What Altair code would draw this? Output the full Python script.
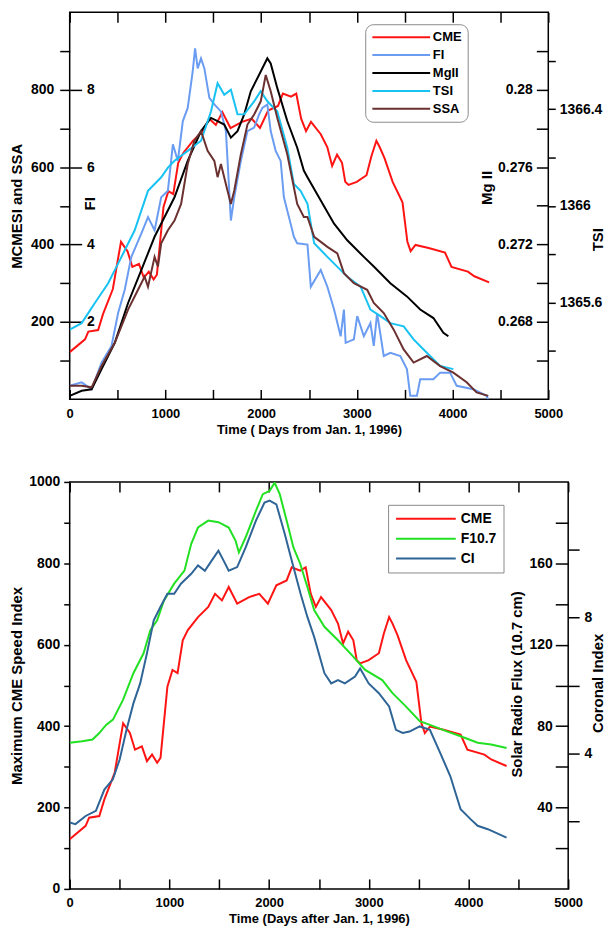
import altair as alt
import pandas as pd

# ---------------- data ----------------
CME_DAY = [0, 160, 195, 297, 348, 451, 502, 536, 604, 655, 724, 775, 826, 877, 911, 980, 1031, 1082, 1134, 1185,
           1287, 1390, 1458, 1527, 1595, 1680, 1800, 1902, 1988, 2073, 2176, 2227, 2312, 2367, 2418, 2469, 2521,
           2623, 2691, 2742, 2793, 2845, 2879, 2913, 2999, 3101, 3152, 3204, 3238, 3289, 3374, 3477, 3528, 3562,
           3613, 3750, 3921, 3989, 4160, 4228, 4382]
CME_VAL = [122, 155, 175, 179, 220, 285, 359, 407, 383, 342, 350, 314, 330, 310, 322, 497, 538, 530, 611, 636,
           668, 693, 725, 709, 742, 701, 717, 725, 701, 746, 758, 790, 782, 790, 725, 693, 717,
           685, 652, 603, 632, 611, 562, 554, 562, 579, 628, 668, 652, 623, 562, 509, 407, 383,
           399, 391, 379, 342, 330, 318, 302]

FI_DAY = [0, 125, 229, 333, 437, 506, 575, 644, 748, 818, 887, 956, 1026, 1078, 1130, 1182, 1233, 1285, 1310, 1337,
          1372, 1407, 1459, 1511, 1580, 1632, 1684, 1719, 1788, 1857, 1927, 1979, 2013, 2065, 2100, 2152, 2204,
          2238, 2308, 2342, 2377, 2484, 2519, 2623, 2692, 2762, 2831, 2865, 2883, 2969, 3004, 3073, 3142, 3177,
          3212, 3281, 3350, 3454, 3523, 3558, 3627, 3662, 3800, 3870, 3974, 4043, 4216, 4355, 4373]
FI_VAL = [0.35, 0.44, 0.26, 0.95, 1.38, 2.23, 2.83, 3.68, 4.28, 4.71, 4.37, 5.22, 5.39, 6.59, 6.16, 7.19, 7.53, 8.47,
          9.07, 8.55, 8.81, 8.55, 7.79, 7.62, 7.44, 6.93, 4.62, 5.22, 6.16, 6.93, 7.02, 7.36, 7.53, 7.62, 6.93,
          6.42, 6.16, 5.22, 4.54, 4.20, 4.03, 4.00, 2.91, 3.34, 2.91, 2.32, 1.63, 2.32, 1.46, 1.55, 2.15, 1.63,
          1.97, 1.38, 2.23, 1.12, 1.20, 1.12, 0.78, 0.09, 0.09, 0.52, 0.52, 0.69, 0.69, 0.35, 0.26, 0.09, 0.0]

MG_DAY = [0, 125, 229, 333, 471, 610, 748, 887, 991, 1095, 1233, 1372, 1476, 1545, 1615, 1684, 1753, 1823, 1892,
          1996, 2065, 2100, 2169, 2273, 2377, 2446, 2484, 2623, 2762, 2900, 3073, 3177, 3350, 3523, 3662, 3800,
          3904, 3956]
MG_VAL = [0.26418, 0.26444, 0.26452, 0.26556, 0.26692, 0.26898, 0.27068, 0.2724, 0.27342, 0.27444, 0.27632,
          0.27786, 0.27854, 0.27838, 0.2782, 0.27752, 0.27786, 0.27872, 0.27992, 0.28094, 0.28162, 0.28136,
          0.28008, 0.27838, 0.277, 0.27582, 0.27548, 0.27428, 0.27308, 0.27222, 0.27136, 0.27086, 0.27,
          0.26932, 0.26864, 0.2682, 0.26744, 0.26726]

TSI_DAY = [0, 125, 263, 402, 541, 679, 818, 956, 1026, 1095, 1233, 1372, 1476, 1545, 1615, 1684, 1753, 1823, 1927,
           1996, 2065, 2169, 2273, 2342, 2412, 2484, 2554, 2692, 2831, 2900, 3039, 3142, 3246, 3350, 3489, 3593,
           3697, 3870, 4008]
TSI_VAL = [1365.488, 1365.515, 1365.598, 1365.68, 1365.789, 1365.899, 1366.062, 1366.118, 1366.158, 1366.186,
           1366.227, 1366.269, 1366.39, 1366.507, 1366.459, 1366.48, 1366.378, 1366.378, 1366.432, 1366.474,
           1366.432, 1366.39, 1366.24, 1366.09, 1366.062, 1366.008, 1365.845, 1365.789, 1365.734, 1365.707,
           1365.666, 1365.571, 1365.544, 1365.515, 1365.502, 1365.448, 1365.406, 1365.338, 1365.325]

SSA_DAY = [0, 125, 229, 333, 471, 610, 714, 783, 818, 887, 922, 956, 1026, 1095, 1164, 1233, 1303, 1372, 1441,
           1511, 1545, 1580, 1649, 1684, 1719, 1788, 1857, 1927, 1996, 2048, 2100, 2169, 2273, 2377, 2446, 2484,
           2554, 2692, 2796, 2865, 2969, 3108, 3177, 3281, 3385, 3489, 3593, 3731, 3870, 4008, 4147, 4251, 4373]
SSA_VAL = [35, 35, 31, 86, 146, 232, 283, 317, 291, 368, 343, 403, 437, 462, 505, 608, 668, 693, 642, 616, 574,
           608, 539, 505, 539, 633, 710, 736, 770, 838, 796, 727, 633, 505, 471, 471, 420, 394, 377, 326, 300,
           283, 249, 223, 180, 129, 95, 112, 86, 69, 44, 18, 9]

F107_DAY = [0, 126, 229, 297, 365, 434, 536, 639, 741, 809, 877, 946, 1048, 1151, 1219, 1287, 1390, 1492, 1595,
            1663, 1697, 1765, 1868, 1937, 2005, 2056, 2107, 2176, 2244, 2312, 2384, 2452, 2555, 2691, 2828, 2964,
            3135, 3238, 3374, 3511, 3613, 3784, 3921, 4092, 4228, 4382]
F107_VAL = [71.8, 72.6, 73.4, 76.6, 80.6, 83.2, 93.0, 106.0, 115.8, 127.2, 132.0, 141.8, 150.0, 156.4, 169.6,
            177.6, 181.0, 180.2, 177.6, 171.2, 165.4, 172.8, 185.8, 194.0, 195.6, 199.6, 194.0, 181.0, 167.8,
            159.8, 148.4, 137.0, 128.8, 122.2, 115.0, 107.6, 102.6, 96.2, 89.6, 82.4, 80.6, 77.4, 75.0, 71.8,
            71.0, 69.2]

CI_DAY = [0, 58, 160, 263, 348, 433, 502, 570, 639, 707, 775, 843, 911, 980, 1048, 1116, 1219, 1287, 1356, 1424,
          1492, 1544, 1595, 1680, 1765, 1868, 1954, 2005, 2073, 2158, 2227, 2316, 2384, 2452, 2555, 2623, 2691,
          2760, 2862, 2913, 2999, 3101, 3204, 3272, 3340, 3408, 3511, 3613, 3716, 3818, 3921, 4023, 4092, 4194,
          4382]
CI_VAL = [1.96, 1.91, 2.15, 2.30, 2.93, 3.23, 3.82, 4.69, 5.47, 6.06, 6.95, 7.92, 8.32, 8.70, 8.70, 9.00, 9.29,
          9.54, 9.38, 9.68, 9.97, 9.68, 9.38, 9.49, 10.07, 10.86, 11.39, 11.45, 11.34, 10.46, 9.68, 8.70, 8.02,
          7.43, 6.36, 6.06, 6.16, 6.06, 6.26, 6.50, 6.06, 5.77, 5.38, 4.69, 4.60, 4.64, 4.79, 4.69, 4.01, 3.32,
          2.35, 2.05, 1.86, 1.76, 1.51]

SERIES_A = ["CME", "FI", "MgII", "TSI", "SSA"]
COLORS_A = ["#ff1414", "#6a9cf2", "#000000", "#18c2f2", "#6b3030"]
SERIES_B = ["CME", "F10.7", "CI"]
COLORS_B = ["#ff1414", "#22e022", "#2f6496"]

X_LABELS = [0, 1000, 2000, 3000, 4000, 5000]
X_TICKS = [0, 500, 1000, 1500, 2000, 2500, 3000, 3500, 4000, 4500, 5000]

FONT = "Liberation Sans"
W_A, H_A = 481, 389
W_B, H_B = 501, 409


def table(days, vals, name):
    return pd.DataFrame({"day": days, "value": vals, "series": name})


def x_main(title):
    return alt.X("day:Q", scale=alt.Scale(domain=[0, 5000], nice=False),
                 axis=alt.Axis(values=X_LABELS, format="d", ticks=False, tickSize=0, domain=False, grid=False,
                               labelPadding=8, labelFlush=False, labelOverlap=False, title=title,
                               titlePadding=3, labelFontSize=13, titleFontSize=13))


def x_ticks(orient, h):
    return alt.X("day:Q", scale=alt.Scale(domain=[0, 5000], nice=False),
                 axis=alt.Axis(orient=orient, offset=-h, values=X_TICKS, labels=False, tickSize=10,
                               domain=False, grid=False, title=None))


def x_plain():
    return alt.X("day:Q", scale=alt.Scale(domain=[0, 5000], nice=False), axis=None)


def color(series, colors, legend):
    return alt.Color("series:N", scale=alt.Scale(domain=series, range=colors), legend=legend)


legend_a = alt.Legend(orient="none", legendX=297, legendY=12, title=None, symbolType="M-1,0H9",
                      symbolSize=135, symbolStrokeWidth=2, labelFont=FONT, labelFontSize=13,
                      labelFontWeight="bold", strokeColor="#8a8a8a", cornerRadius=8, padding=6,
                      fillColor="white", rowPadding=4, labelOffset=48)
legend_b = alt.Legend(orient="none", legendX=320, legendY=23, title=None, symbolType="M-1,0H9",
                      symbolSize=144, symbolStrokeWidth=2, labelFont=FONT, labelFontSize=14,
                      labelFontWeight="bold", strokeColor="#8a8a8a", cornerRadius=0, padding=7,
                      fillColor="white", rowPadding=6, labelOffset=52)

col_a = color(SERIES_A, COLORS_A, legend_a)
col_b = color(SERIES_B, COLORS_B, legend_b)
line = dict(strokeWidth=2, clip=True)

# ---------------- panel (a) ----------------
a_cme = alt.Chart(table(CME_DAY, CME_VAL, "CME")).mark_line(**line).encode(
    x=x_main("Time ( Days from Jan. 1, 1996)"),
    y=alt.Y("value:Q", scale=alt.Scale(domain=[0, 1000], nice=False, zero=False),
            axis=alt.Axis(orient="left", values=list(range(100, 1000, 100)), format="d",
                          labelExpr="datum.value % 200 == 0 ? datum.label : ''",
                          tickSize=10, labelPadding=6, domain=False, grid=False,
                          title="MCMESI and SSA", titlePadding=6, labelOverlap=False)),
    color=col_a)

a_fi = alt.Chart(table(FI_DAY, FI_VAL, "FI")).mark_line(**line).encode(
    x=x_ticks("top", H_A),
    y=alt.Y("value:Q", scale=alt.Scale(domain=[0, 10], nice=False, zero=False),
            axis=alt.Axis(orient="right", offset=-W_A, values=[2, 4, 6, 8], tickSize=12, labelPadding=5,
                          domain=False, grid=False, title="FI", titleAngle=270, titleX=20, titleY=192,
                          titleAlign="center", titleBaseline="middle", labelOverlap=False)),
    color=col_a)

a_mg = alt.Chart(table(MG_DAY, MG_VAL, "MgII")).mark_line(**line).encode(
    x=x_ticks("bottom", H_A),
    y=alt.Y("value:Q", scale=alt.Scale(domain=[0.264, 0.284], nice=False, zero=False),
            axis=alt.Axis(orient="left", offset=-W_A,
                          values=[0.266, 0.268, 0.27, 0.272, 0.274, 0.276, 0.278, 0.28, 0.282],
                          labelExpr="round(datum.value * 1000) % 4 == 0 ? format(datum.value, '~g') : ''",
                          tickSize=12, labelPadding=4, domain=False, grid=False, title="Mg II",
                          titleAngle=270, titleX=-62, titleY=176, titleAlign="center",
                          titleBaseline="middle", labelOverlap=False)),
    color=col_a)

a_tsi = alt.Chart(table(TSI_DAY, TSI_VAL, "TSI")).mark_line(**line).encode(
    x=x_plain(),
    y=alt.Y("value:Q", scale=alt.Scale(domain=[1365.2, 1366.8], nice=False, zero=False),
            axis=alt.Axis(orient="right",
                          values=[1365.4, 1365.6, 1365.8, 1366.0, 1366.2, 1366.4, 1366.6],
                          labelExpr="round(datum.value * 10) % 4 == 0 ? format(datum.value, '~g') : ''",
                          tickSize=7, labelPadding=4, domain=False, grid=False, title="TSI",
                          titleAngle=270, titleX=49, titleY=228, titleAlign="center",
                          titleBaseline="middle", labelOverlap=False)),
    color=col_a)

a_ssa = alt.Chart(table(SSA_DAY, SSA_VAL, "SSA")).mark_line(**line).encode(
    x=x_plain(),
    y=alt.Y("value:Q", scale=alt.Scale(domain=[0, 1000], nice=False, zero=False), axis=None),
    color=col_a)

panel_a = alt.layer(a_cme, a_fi, a_mg, a_tsi, a_ssa).resolve_scale(
    x="independent", y="independent").properties(width=W_A, height=H_A)

# ---------------- panel (b) ----------------
b_cme = alt.Chart(table(CME_DAY, CME_VAL, "CME")).mark_line(**line).encode(
    x=x_main("Time (Days after Jan. 1, 1996)"),
    y=alt.Y("value:Q", scale=alt.Scale(domain=[0, 1000], nice=False, zero=False),
            axis=alt.Axis(orient="left", values=list(range(0, 1001, 100)), format="d",
                          labelExpr="datum.value % 200 == 0 ? datum.label : ''",
                          tickSize=6, labelPadding=4, domain=False, grid=False,
                          title="Maximum CME Speed Index", titlePadding=4, labelOverlap=False)),
    color=col_b)

b_f107 = alt.Chart(table(F107_DAY, F107_VAL, "F10.7")).mark_line(**line).encode(
    x=x_ticks("top", H_B),
    y=alt.Y("value:Q", scale=alt.Scale(domain=[0, 200], nice=False, zero=False),
            axis=alt.Axis(orient="left", offset=-W_B, values=list(range(20, 200, 20)),
                          labelExpr="datum.value % 40 == 0 ? datum.label : ''",
                          tickSize=13, labelPadding=3, domain=False, grid=False,
                          title="Solar Radio Flux (10.7 cm)", titleAngle=270, titleX=-52, titleY=203,
                          titleAlign="center", titleBaseline="middle", labelOverlap=False)),
    color=col_b)

b_ci = alt.Chart(table(CI_DAY, CI_VAL, "CI")).mark_line(**line).encode(
    x=x_ticks("bottom", H_B),
    y=alt.Y("value:Q", scale=alt.Scale(domain=[0, 12], nice=False, zero=False),
            axis=alt.Axis(orient="right", values=[2, 4, 6, 8, 10],
                          labelExpr="datum.value % 4 == 0 ? datum.label : ''",
                          tickSize=11, labelPadding=5, domain=False, grid=False,
                          title="Coronal Index", titleAngle=270, titleX=29, titleY=202,
                          titleAlign="center", titleBaseline="middle", labelOverlap=False)),
    color=col_b)

panel_b = alt.layer(b_cme, b_f107, b_ci).resolve_scale(
    x="independent", y="independent").properties(width=W_B, height=H_B)

chart = alt.vconcat(panel_a, panel_b, spacing=37).resolve_scale(
    color="independent").properties(
    padding={"left": 0, "top": 0, "right": 0, "bottom": 0}
).configure_view(stroke="black", strokeWidth=1.5).configure_axis(
    labelFont=FONT, titleFont=FONT, labelFontWeight="bold", titleFontWeight="bold",
    labelFontSize=14, titleFontSize=15, tickColor="black", labelColor="black", titleColor="black",
    tickWidth=1.5, labelFlush=False)

chart.save("out.html", embed_options={"renderer": "svg", "actions": False})
